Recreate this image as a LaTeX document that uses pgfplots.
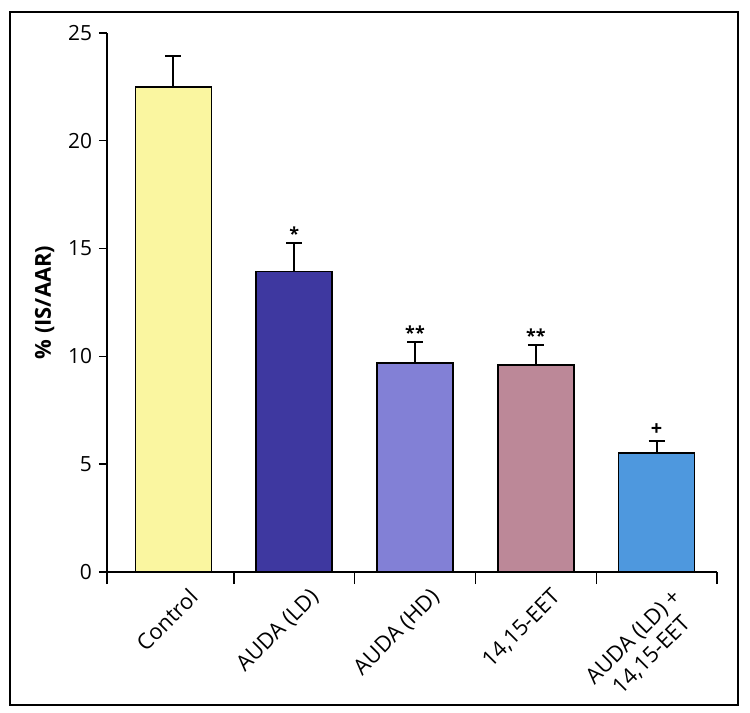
\documentclass[border=0pt]{standalone}
\usepackage{pgfplots}
\pgfplotsset{compat=1.18}
\usepackage{fontspec}
\setmainfont{Open Sans}
\definecolor{cctrl}{RGB}{250,246,160}
\definecolor{cld}{RGB}{62,56,160}
\definecolor{chd}{RGB}{130,128,214}
\definecolor{ceet}{RGB}{188,136,152}
\definecolor{ccomb}{RGB}{78,152,222}
\begin{document}
\begin{tikzpicture}
\path[use as bounding box] (0bp,0bp) rectangle (375bp,356.5bp);
\draw[line width=0.9bp] (5bp,4bp) rectangle (369bp,350.5bp);
\begin{axis}[
  at={(53.5bp,70.5bp)}, anchor=south west,
  scale only axis, width=305bp, height=269.5bp,
  xmin=-0.55, xmax=4.5, ymin=0, ymax=25,
  axis lines=left, axis line style={-, line width=0.7bp},
  ytick={0,5,...,25},
  xtick={0,1,2,3,4},
  xticklabels={Control, AUDA (LD), AUDA (HD), {14,15-EET}, {AUDA (LD) +\\14,15-EET}},
  major x tick style={draw=none},
  minor xtick={-0.55,0.5,1.5,2.5,3.5,4.5},
  minor tick length=6bp,
  major tick length=4bp,
  tick align=outside,
  tick style={black, line width=0.7bp},
  /pgf/number format/assume math mode=true,
  tick label style={font=\fontsize{10.5}{12}\selectfont},
  x tick label style={rotate=45, anchor=north east, align=center, xshift=6bp, yshift=-4bp, font=\fontsize{11}{13}\selectfont},
  ylabel={\textbf{\% (IS/AAR)}},
  ylabel style={font=\fontsize{11}{12}\selectfont, yshift=0bp},
  ybar, bar width=0.63, bar shift=0pt,
  error bars/y dir=plus, error bars/y explicit,
  error bars/error mark options={rotate=90, mark size=4bp, line width=1bp},
  error bars/error bar style={line width=1bp, black},
]
\addplot[fill=cctrl, draw=black, line width=0.8bp] coordinates {(0,22.5) +- (0,1.43)};
\addplot[fill=cld, draw=black, line width=0.8bp] coordinates {(1,13.93) +- (0,1.34)};
\addplot[fill=chd, draw=black, line width=0.8bp] coordinates {(2,9.7) +- (0,0.98)};
\addplot[fill=ceet, draw=black, line width=0.8bp] coordinates {(3,9.6) +- (0,0.92)};
\addplot[fill=ccomb, draw=black, line width=0.8bp] coordinates {(4,5.53) +- (0,0.56)};
\node[font=\fontsize{9}{10}\selectfont\bfseries, anchor=center] at (axis cs:1,15.7) {*};
\node[font=\fontsize{9}{10}\selectfont\bfseries, anchor=center] at (axis cs:2,11.1) {**};
\node[font=\fontsize{9}{10}\selectfont\bfseries, anchor=center] at (axis cs:3,10.95) {**};
\node[font=\fontsize{10}{10}\selectfont\bfseries, anchor=center] at (axis cs:4,6.6) {+};
\end{axis}
\end{tikzpicture}
\end{document}
